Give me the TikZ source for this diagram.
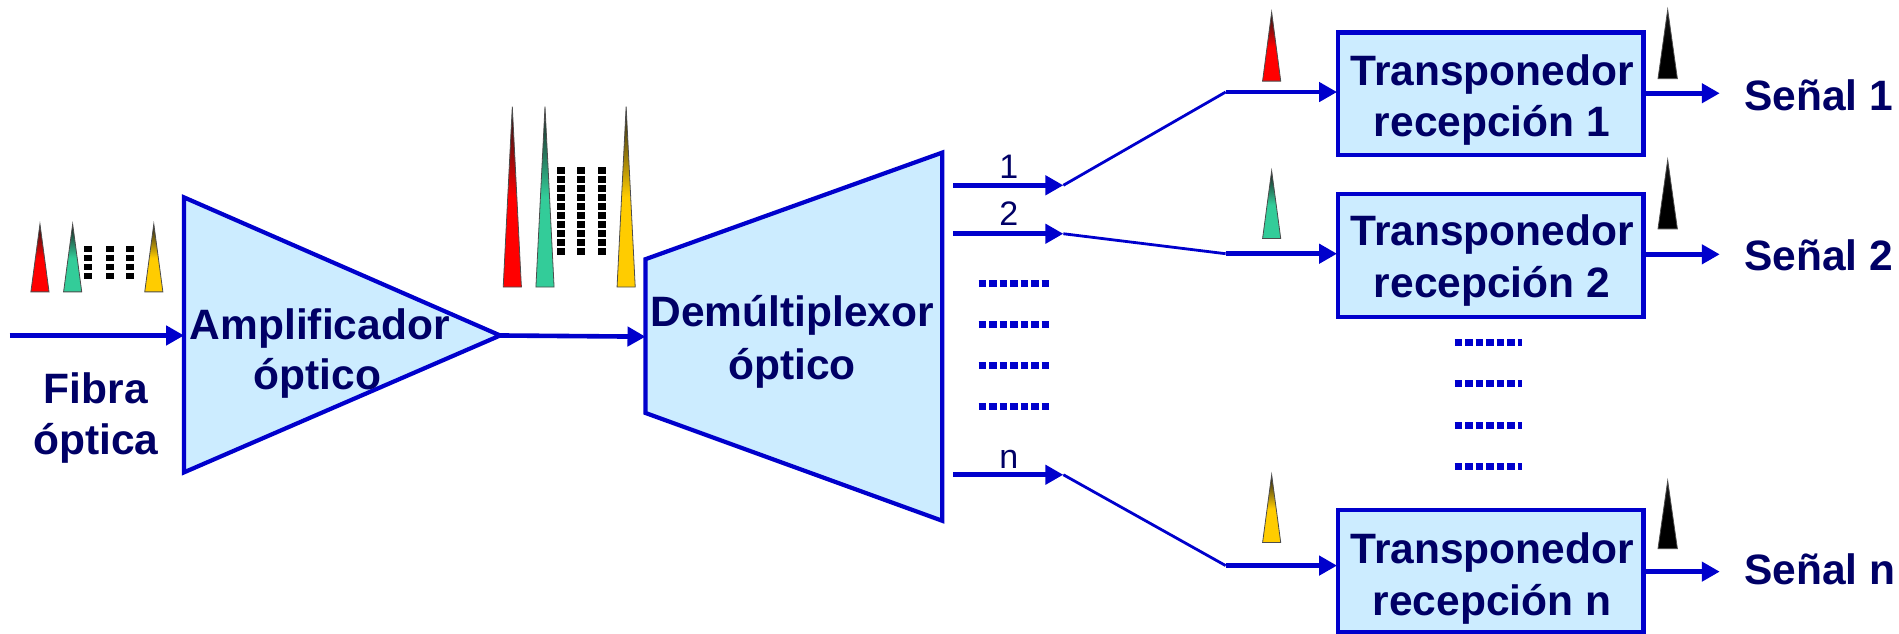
\documentclass[tikz,border=0pt]{standalone}
\usepackage{fontspec}
\setmainfont{Liberation Sans}
\usetikzlibrary{arrows.meta}
\definecolor{lineblue}{RGB}{0,0,204}
\definecolor{fillblue}{RGB}{204,236,255}
\definecolor{navy}{RGB}{0,0,102}
\definecolor{pred}{RGB}{255,0,0}
\definecolor{pgreen}{RGB}{51,204,153}
\definecolor{pyellow}{RGB}{255,204,0}
\tikzset{
  x=1.2111pt,y=-1.2111pt,
  block/.style={draw=lineblue,line width=4.2pt,fill=fillblue,line join=miter},
  boxnode/.style={block,minimum width=305.2pt,minimum height=122.7pt,inner sep=0pt},
  label/.style={text=navy,font=\fontsize{42.5}{42.5}\selectfont\bfseries,inner sep=0pt,anchor=base},
  numlabel/.style={text=navy,font=\fontsize{34}{34}\selectfont,inner sep=0pt,anchor=base},
  sig/.style={draw=lineblue,line width=4.6pt,-{Triangle[length=18pt,width=19pt]},shorten >=0pt},
  thin link/.style={draw=lineblue,line width=2.8pt},
  blue dots/.style={draw=lineblue,line width=7pt,dash pattern=on 7.5pt off 3pt},
  black dots/.style={draw=black,line width=8pt,dash pattern=on 6.5pt off 2.5pt},
}
\newcommand{\pulse}[5]{% x apex, half width, y apex, y base, colour
  \path[draw=black!70,line width=0.8pt,top color=black!90,bottom color=#5,middle color=#5,shading angle=0]
    (#1,#3) -- (#1+#2,#4) -- (#1-#2,#4) -- cycle;
}
\begin{document}
\begin{tikzpicture}
\useasboundingbox (0,0) rectangle (1568,523);
% shapes
\coordinate (a1) at (152,163); \coordinate (a2) at (413,277); \coordinate (a3) at (152,390);
\coordinate (ain) at (152,277);
\coordinate (d1) at (533,214); \coordinate (d2) at (778,126); \coordinate (d3) at (778,430); \coordinate (d4) at (533,341);
\coordinate (din) at (533,278);
\draw[block] (a1) -- (a2) -- (a3) -- cycle;
\draw[block] (d1) -- (d2) -- (d3) -- (d4) -- cycle;
\node[boxnode] (t1) at (1231,77.5) {};
\node[boxnode] (t2) at (1231,211) {};
\node[boxnode] (tn) at (1231,471.5) {};
% free ends
\coordinate (fib) at (8,277);
\coordinate (o1s) at (787,153); \coordinate (o1e) at (878,153);
\coordinate (o2s) at (787,193); \coordinate (o2e) at (878,193);
\coordinate (ons) at (787,392); \coordinate (one) at (878,392);
\coordinate (i1s) at (1012,76); \coordinate (i2s) at (1012,209.5); \coordinate (ins) at (1012,467);
\coordinate (i1e) at (1104,76); \coordinate (i2e) at (1104,209.5); \coordinate (ine) at (1104,467);
\coordinate (s1s) at (1358,77); \coordinate (s1e) at (1420,77);
\coordinate (s2s) at (1358,210); \coordinate (s2e) at (1420,210);
\coordinate (sns) at (1358,472); \coordinate (sne) at (1420,472);
% connectors
\draw[sig] (fib) -- (ain);
\draw[sig] (a2) -- (din);
\draw[sig] (o1s) -- (o1e);
\draw[sig] (o2s) -- (o2e);
\draw[sig] (ons) -- (one);
\draw[thin link] (o1e) -- (i1s);
\draw[thin link] (o2e) -- (i2s);
\draw[thin link] (one) -- (ins);
\draw[sig] (i1s) -- (i1e);
\draw[sig] (i2s) -- (i2e);
\draw[sig] (ins) -- (ine);
\draw[sig] (s1s) -- (s1e);
\draw[sig] (s2s) -- (s2e);
\draw[sig] (sns) -- (sne);
% dotted rows
\foreach \y in {234,268,302,336} \draw[blue dots] (808,\y) -- (866,\y);
\foreach \y in {283,317,351,385} \draw[blue dots] (1201,\y) -- (1257,\y);
\foreach \x in {73,91,107} \draw[black dots] (\x,203) -- (\x,230);
\foreach \x in {463,480,497} \draw[black dots] (\x,138) -- (\x,212);
% pulses
\pulse{33}{7.5}{185}{241}{pred}
\pulse{60}{7.5}{185}{241}{pgreen}
\pulse{127}{7.5}{185}{241}{pyellow}
\pulse{423}{7.5}{88}{237}{pred}
\pulse{450}{7.5}{88}{237}{pgreen}
\pulse{517}{7.5}{88}{237}{pyellow}
\pulse{1050}{7.5}{10}{67}{pred}
\pulse{1050}{7.5}{141}{197}{pgreen}
\pulse{1050}{7.5}{392}{448}{pyellow}
\pulse{1377}{8}{8}{65}{black}
\pulse{1377}{8}{132}{189}{black}
\pulse{1377}{8}{397}{453}{black}
% labels
\node[label] (lf1) at (79,333) {Fibra};
\node[label] (lf2) at (79,375) {óptica};
\node[label] (la1) at (264,280) {Amplificador};
\node[label] (la2) at (262,322) {óptico};
\node[label] (ld1) at (654,270) {Demúltiplexor};
\node[label] (ld2) at (654,313) {óptico};
\node[numlabel] (n1) at (833,147) {1};
\node[numlabel] (n2) at (833,186) {2};
\node[numlabel] (nn) at (833,387) {n};
\node[label] (t1a) at (1232,71) {Transponedor};
\node[label] (t1b) at (1232,113) {recepción 1};
\node[label] (t2a) at (1232,203) {Transponedor};
\node[label] (t2b) at (1232,246) {recepción 2};
\node[label] (tna) at (1232,465) {Transponedor};
\node[label] (tnb) at (1232,508) {recepción n};
\node[label,anchor=base west] (s1) at (1440,91) {Señal 1};
\node[label,anchor=base west] (s2) at (1440,223) {Señal 2};
\node[label,anchor=base west] (sn) at (1440,483) {Señal n};
\end{tikzpicture}
\end{document}
